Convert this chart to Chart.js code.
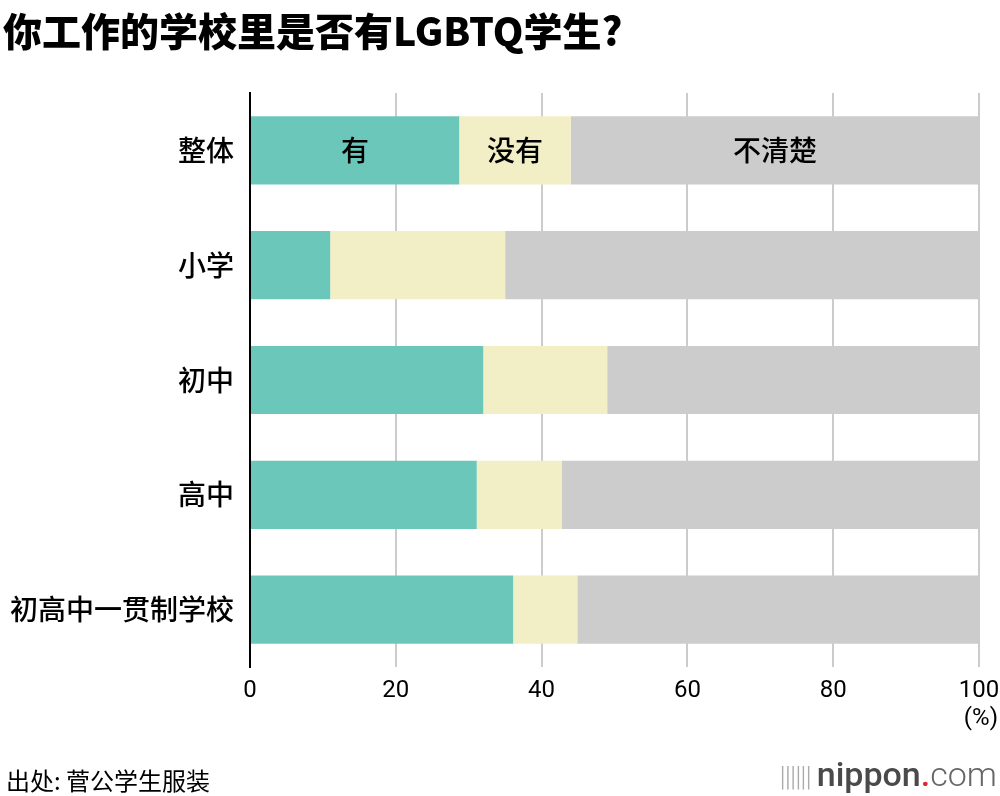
<!DOCTYPE html>
<html>
<head>
<meta charset="utf-8">
<script src="https://cdn.jsdelivr.net/npm/chart.js@4.4.1/dist/chart.umd.min.js"></script>
<style>
  body { margin: 0; background: #fff; }
  #wrap { position: relative; width: 1000px; height: 796px; }
  canvas { position: absolute; left: 0; top: 0; }
  .title { position: absolute; left: 3px; top: 1px; font: 900 39px "Noto Sans CJK SC", sans-serif; color: #000; white-space: nowrap; }
  .source { position: absolute; left: 6px; top: 762px; font: 24px "Noto Sans CJK SC", sans-serif; color: #000; }
  .unit { position: absolute; right: 2px; top: 703px; font: 24px Roboto, sans-serif; color: #000; }
  .logo { position: absolute; right: 3px; top: 754px; font: 500 34px Roboto, sans-serif; color: #4a4a4a; }
  .logo .dot { color: #e0282e; }
  .logo .com { font-weight: 300; color: #666; }
  .logo .bars { font-weight: 300; color: #aaa; font-size: 28px; letter-spacing: -1px; margin-right: 6px; }
</style>
</head>
<body>
<div id="wrap">
  <canvas id="myChart" width="1000" height="796"></canvas>
  <div class="title">你工作的学校里是否有LGBTQ学生?</div>
  <div class="unit">(%)</div>
  <div class="source">出处: 菅公学生服装</div>
  <div class="logo"><span class="bars">||||||</span>nippon<span class="dot">.</span><span class="com">com</span></div>
</div>
<script>
const categories = ['整体', '小学', '初中', '高中', '初高中一贯制学校'];
const seriesNames = ['有', '没有', '不清楚'];
const yesValues = [28.7, 11.0, 32.0, 31.1, 36.1];
const noValues = [15.3, 24.0, 17.0, 11.7, 8.8];
const unknownValues = [56.0, 65.0, 51.0, 57.2, 55.1];
const xTicks = [0, 20, 40, 60, 80, 100];

const colors = ['#6cc7bb', '#f2eec6', '#cccccc'];

// 只在第一根柱子上写系列名
const segmentLabels = {
    id: 'segmentLabels',
    afterDatasetsDraw(chart) {
        const ctx = chart.ctx;
        ctx.save();
        ctx.font = '500 28px "Noto Sans CJK SC"';
        ctx.fillStyle = '#000';
        ctx.textAlign = 'center';
        ctx.textBaseline = 'middle';
        chart.data.datasets.forEach((ds, i) => {
            const bar = chart.getDatasetMeta(i).data[0];
            const cx = (bar.x + bar.base) / 2;
            ctx.fillText(ds.label, cx, bar.y);
        });
        ctx.restore();
    }
};

new Chart(document.getElementById('myChart'), {
    type: 'bar',
    data: {
        labels: categories,
        datasets: [
            { label: seriesNames[0], data: yesValues, backgroundColor: colors[0] },
            { label: seriesNames[1], data: noValues, backgroundColor: colors[1] },
            { label: seriesNames[2], data: unknownValues, backgroundColor: colors[2] }
        ]
    },
    options: {
        indexAxis: 'y',
        responsive: false,
        animation: false,
        barPercentage: 0.594,
        categoryPercentage: 1,
        layout: { padding: { top: 93, right: 21, left: 0, bottom: 0 } },
        plugins: {
            legend: { display: false },
            tooltip: { enabled: false }
        },
        scales: {
            x: {
                stacked: true,
                min: 0,
                max: 100,
                afterBuildTicks: (scale) => { scale.ticks = xTicks.map(v => ({ value: v })); },
                afterFit: (scale) => {
                    scale.height = 129;
                    scale.paddingLeft = 0;
                    scale.paddingRight = 0;
                },
                grid: { color: '#cccccc', lineWidth: 2, drawTicks: false },
                border: { display: false },
                ticks: { color: '#000', padding: 10, font: { family: 'Roboto', size: 24 } }
            },
            y: {
                stacked: true,
                afterFit: (scale) => { scale.width = 250; },
                grid: { display: false },
                border: { color: '#000', width: 2 },
                ticks: { color: '#000', padding: 8, font: { family: 'Noto Sans CJK SC', size: 28, weight: '500' } }
            }
        }
    },
    plugins: [segmentLabels]
});
</script>
</body>
</html>
